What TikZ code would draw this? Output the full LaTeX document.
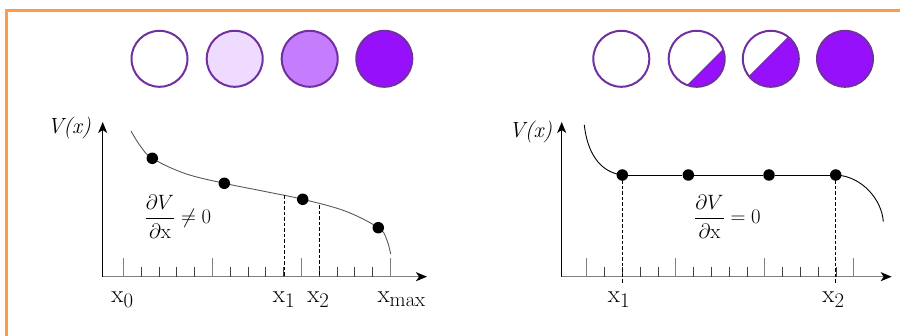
\documentclass[tikz,border=0pt]{standalone}
\usetikzlibrary{arrows.meta}

\definecolor{edgeviolet}{RGB}{112,48,160}
\definecolor{fillviolet}{RGB}{150,16,252}
\definecolor{frameorange}{RGB}{255,155,66}

\begin{document}
\begin{tikzpicture}[x=1pt,y=-1pt,
    bead/.style={draw=edgeviolet, line width=2pt, circle, minimum size=56pt, inner sep=0pt},
    dot/.style={circle, fill=black, minimum size=11.5pt, inner sep=0pt},
    longtick/.style={gray, line width=1.3pt},
    shorttick/.style={black!75, line width=0.7pt},
    xaxis/.style={gray, line width=1.6pt, -{Stealth[black, length=11pt, width=9pt, inset=3pt]}},
    yaxis/.style={black, line width=1.2pt, -{Stealth[black, length=11pt, width=9pt, inset=3pt]}},
    guide/.style={black, line width=0.8pt, dash pattern=on 3.5pt off 2pt},
    curve/.style={black!65, line width=0.9pt},
    flat/.style={black, line width=0.9pt},
    lbl/.style={font=\fontsize{24.88}{28}\selectfont},
    fraclbl/.style={font=\fontsize{20.74}{25}\selectfont},
    vlbl/.style={font=\fontsize{22}{26}\selectfont\itshape}]
\useasboundingbox (0,0) rectangle (900,336);

% frame
\draw[frameorange, line width=3pt] (900,11) -- (6,11) -- (6,336);

% --- LEFT: beads ---
\foreach \x/\shade [count=\i] in {159.5/0, 234.7/15, 309.7/55, 384.3/100}
  \node[bead, fill=fillviolet!\shade] (lb\i) at (\x,58.8) {};

% axes
\coordinate (lo) at (102.7,276.7);
\draw[xaxis] (lo) -- (427,276.7);
\draw[yaxis] (lo) -- (102.7,122);
\node[vlbl] (lv) at (69.2,128.3) {V(x)};

% ticks
\foreach \i in {0,5,10,15}
  \draw[longtick] ({123.3+17.8*\i},276.7) -- ++(0,-19);
\foreach \i in {1,2,3,4,6,7,8,9,11,12,13,14}
  \draw[shorttick] ({123.3+17.8*\i},276.7) -- ++(0,-10);

% potential
\draw[curve] plot[smooth, tension=0.6] coordinates {(131,131) (140,145.5) (152.3,158.3) (185,173.5) (224.3,183.3) (265,191.5) (302.7,199.3) (345,211) (378.3,227.7) (386.5,239) (390.7,254)};
\foreach \x/\y [count=\i] in {152.3/158.3, 224.3/183.3, 302.7/199.3, 378.3/227.7}
  \node[dot] (ld\i) at (\x,\y) {};

% x1, x2
\coordinate (lg1) at (284,195.5);
\coordinate (lg2) at (319,205.4);
\draw[guide] (lg1) -- (lg1 |- lo);
\draw[guide] (lg2) -- (lg2 |- lo);

\node[lbl, anchor=base] (lx0) at (122.5,302.7) {$\mathrm{x}_0$};
\node[lbl, anchor=base] (lx1) at (284,302.7) {$\mathrm{x}_1$};
\node[lbl, anchor=base] (lx2) at (318.3,302.7) {$\mathrm{x}_2$};
\node[lbl, anchor=base] (lxm) at (401.7,302.7) {$\mathrm{x}_{\mathrm{max}}$};
\node[fraclbl] (lfrac) at (178,216.7) {$\displaystyle\frac{\partial V}{\partial \mathrm{x}} \neq 0$};

% --- RIGHT: beads ---
\node[bead] (rb1) at (621.3,58.8) {};
\node[bead, path picture={
    \filldraw[fill=fillviolet, draw=edgeviolet, line width=1pt]
      (path picture bounding box.center) ++(-19:28) arc[start angle=-19, end angle=109, radius=28] -- cycle;}]
  (rb2) at (696.7,58.8) {};
\node[bead, path picture={
    \filldraw[fill=fillviolet, draw=edgeviolet, line width=1pt]
      (path picture bounding box.center) ++(-50.7:28) arc[start angle=-50.7, end angle=140.7, radius=28] -- cycle;}]
  (rb3) at (770.8,58.8) {};
\node[bead, fill=fillviolet] (rb4) at (845,58.8) {};

% axes
\coordinate (ro) at (561.7,276.7);
\draw[xaxis] (ro) -- (891.7,276.7);
\draw[yaxis] (ro) -- (561.7,122);
\node[vlbl] (rv) at (530.5,132) {V(x)};

% ticks
\foreach \i in {0,5,10,15}
  \draw[longtick] ({586.7+17.8*\i},276.7) -- ++(0,-19);
\foreach \i in {1,2,3,4,6,7,8,9,11,12,13,14}
  \draw[shorttick] ({586.7+17.8*\i},276.7) -- ++(0,-10);

% plateau
\foreach \x [count=\i] in {622.3, 688.3, 769, 835.7}
  \node[dot] (rd\i) at (\x,175) {};
\draw[flat] (rd1) -- (rd2) (rd2) -- (rd3) (rd3) -- (rd4);
\draw[flat] (584.3,125) .. controls (587,150) and (598,172) .. (rd1.center);
\draw[flat] (rd4.center) .. controls (862,176) and (882,200) .. (883.3,221.7);

\draw[guide] (rd1.center) -- (rd1.center |- 0,283.3);
\draw[guide] (rd4.center) -- (rd4.center |- 0,283.3);

\node[lbl, anchor=base] (rx1) at (619,302.7) {$\mathrm{x}_1$};
\node[lbl, anchor=base] (rx2) at (833.5,302.7) {$\mathrm{x}_2$};
\node[fraclbl] (rfrac) at (727.5,216.7) {$\displaystyle\frac{\partial V}{\partial \mathrm{x}} = 0$};
\end{tikzpicture}
\end{document}
